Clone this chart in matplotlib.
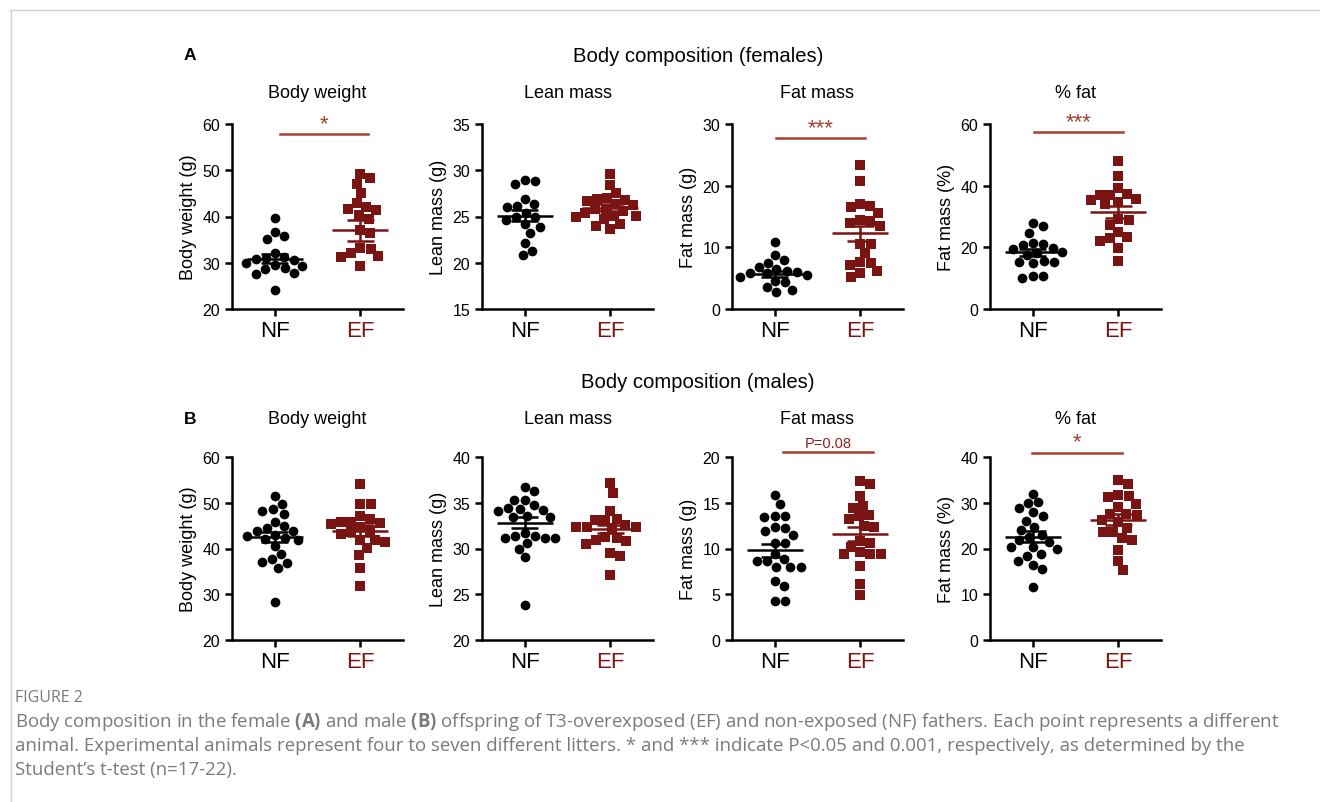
import matplotlib
matplotlib.use("Agg")
import matplotlib.pyplot as plt
import numpy as np

plt.rcParams['font.family'] = ['Liberation Sans', 'DejaVu Sans']
plt.rcParams['mathtext.fontset'] = 'custom'
plt.rcParams['mathtext.rm'] = 'Open Sans'
plt.rcParams['mathtext.bf'] = 'Open Sans:bold'

NF_COLOR = '#000000'
EF_COLOR = '#7a1412'
SIG_COLOR = '#a8402e'

# ---- data --------------------------------------------------------------------
# row A: females
fw_nf = [39.6, 36.6, 35.8, 35.1, 32.2, 31.2, 31.0, 30.8, 30.5, 30.0, 29.5,
         29.2, 28.8, 28.6, 27.8, 27.5, 24.2]
fw_ef = [49.1, 48.3, 47.0, 45.0, 43.0, 42.0, 41.7, 41.4, 40.3, 39.4, 37.1,
         36.5, 33.2, 33.0, 32.1, 31.4, 31.3, 29.3]
fl_nf = [29.0, 28.8, 28.5, 26.9, 26.4, 26.1, 26.0, 25.4, 24.9, 24.9, 24.6,
         24.2, 23.9, 23.2, 22.1, 21.3, 20.8]
fl_ef = [29.6, 28.4, 27.5, 27.0, 26.9, 26.8, 26.7, 26.3, 26.2, 25.8, 25.8,
         25.6, 25.4, 25.1, 25.1, 24.9, 24.7, 24.2, 24.0, 23.6]
ff_nf = [10.9, 8.8, 8.0, 7.5, 6.8, 6.5, 6.2, 6.0, 5.9, 5.8, 5.5, 5.2, 4.6,
         4.3, 3.5, 3.1, 2.7]
ff_ef = [23.3, 20.8, 17.1, 16.7, 16.5, 15.5, 14.5, 14.2, 14.0, 13.5, 10.6,
         10.6, 9.1, 7.6, 7.4, 7.2, 6.1, 5.8, 5.2]
fp_nf = [27.8, 26.9, 24.7, 21.3, 21.2, 20.7, 19.9, 19.6, 18.6, 18.2, 17.6,
         15.7, 15.3, 15.3, 15.0, 10.6, 10.6, 10.1]
fp_ef = [48.1, 43.2, 39.1, 37.2, 37.0, 37.0, 35.8, 35.4, 34.8, 34.0, 29.3,
         28.9, 27.2, 25.1, 23.3, 22.9, 22.2, 19.9, 15.7]

# row B: males
mw_nf = [51.5, 49.8, 48.7, 48.3, 47.6, 45.9, 45.0, 44.5, 43.9, 43.9, 43.0,
         42.8, 42.3, 42.0, 41.9, 40.6, 38.8, 37.7, 37.1, 36.9, 35.8, 28.2]
mw_ef = [54.2, 49.8, 49.8, 47.0, 46.4, 45.9, 45.9, 45.5, 45.4, 44.7, 43.9,
         43.5, 43.1, 41.9, 41.9, 41.5, 40.1, 38.6, 35.7, 31.9]
ml_nf = [36.7, 36.3, 35.3, 35.3, 34.7, 34.4, 34.3, 34.2, 34.1, 33.5, 33.4,
         33.4, 31.7, 31.4, 31.4, 31.1, 31.1, 31.1, 30.6, 30.0, 29.1, 23.8]
ml_ef = [37.2, 36.1, 34.1, 33.2, 33.1, 33.1, 32.6, 32.4, 32.4, 32.3, 32.2,
         31.3, 31.2, 30.9, 30.8, 30.5, 29.5, 29.2, 27.1]
mf_nf = [15.9, 14.9, 13.5, 13.5, 13.4, 12.3, 12.2, 11.9, 11.5, 10.6, 10.6,
         9.4, 8.9, 8.6, 8.6, 8.0, 8.0, 8.0, 6.4, 5.9, 4.3, 4.3]
mf_ef = [17.4, 17.0, 15.7, 14.6, 14.4, 13.7, 13.5, 13.2, 12.5, 12.3, 10.8,
         10.6, 10.2, 9.6, 9.4, 9.4, 9.4, 8.1, 6.1, 4.9]
mp_nf = [32.0, 30.1, 30.0, 28.9, 27.9, 27.2, 26.1, 24.6, 24.1, 23.0, 22.6,
         21.9, 21.4, 20.3, 20.3, 20.0, 18.8, 18.4, 17.3, 16.4, 15.5, 11.5]
mp_ef = [34.9, 34.0, 31.7, 31.4, 31.2, 29.8, 29.0, 27.6, 27.6, 27.4, 26.3,
         25.7, 24.4, 23.7, 23.5, 22.4, 21.9, 19.7, 17.3, 15.3]

# mean and SEM as drawn (NF, EF)
means = [[30.85, 37.0], [25.1, 25.95], [5.7, 12.3], [18.4, 31.5],
         [42.5, 43.9], [32.8, 32.1], [9.8, 11.6], [22.6, 26.25]]
sems = [[0.95, 2.3], [0.6, 0.36], [0.5, 1.2], [1.2, 2.0],
        [1.15, 1.15], [0.6, 0.45], [0.68, 0.73], [1.15, 1.2]]

titles = ["Body weight", "Lean mass", "Fat mass", "% fat"]
ylabels = ["Body weight (g)", "Lean mass (g)", "Fat mass (g)", "Fat mass (%)"]
ylims_f = [(20, 60), (15, 35), (0, 30), (0, 60)]
yticks_f = [[20, 30, 40, 50, 60], [15, 20, 25, 30, 35], [0, 10, 20, 30], [0, 20, 40, 60]]
ylims_m = [(20, 60), (20, 40), (0, 20), (0, 40)]
yticks_m = [[20, 30, 40, 50, 60], [20, 25, 30, 35, 40], [0, 5, 10, 15, 20], [0, 10, 20, 30, 40]]

# significance bars: (label, x0, x1, y)
sig_f = [("*", 0.06, 1.09, 57.8), None, ("***", 0.02, 1.05, 27.7), ("***", 0.02, 1.06, 57.5)]
sig_m = [None, None, ("P=0.08", 0.1, 1.15, 20.5), ("*", -0.01, 1.04, 40.95)]

female = [(fw_nf, fw_ef), (fl_nf, fl_ef), (ff_nf, ff_ef), (fp_nf, fp_ef)]
male = [(mw_nf, mw_ef), (ml_nf, ml_ef), (mf_nf, mf_ef), (mp_nf, mp_ef)]


def swarm(ax, xc, vals, d_px):
    """Simple beeswarm: offsets in data units so markers don't overlap."""
    tr = ax.transData
    pts = np.column_stack([np.full(len(vals), xc), vals])
    disp = tr.transform(pts)
    ys = disp[:, 1]
    order = np.argsort(-ys)
    placed = []
    xs_out = np.zeros(len(vals))
    x0 = disp[0, 0]
    for i in order:
        y = ys[i]
        cands = [0.0]
        for (px, py) in placed:
            dy = abs(py - y)
            if dy < d_px:
                dx = np.sqrt(d_px ** 2 - dy ** 2)
                cands += [px + dx, px - dx]
        cands.sort(key=abs)
        for c in cands:
            ok = all((c - px) ** 2 + (y - py) ** 2 >= d_px ** 2 - 1e-6 for (px, py) in placed)
            if ok:
                placed.append((c, y))
                xs_out[i] = c
                break
    back = tr.inverted().transform(np.column_stack([x0 + xs_out, ys]))
    return back[:, 0]


W, H = 1320, 803
fig = plt.figure(figsize=(W / 100, H / 100), dpi=100)

lefts = [232, 482, 732, 990]
ax_w = 171
rows = [(125, 310), (458, 641)]
title_y = [94, 420]


def draw_row(row_idx, groups, ylims, yticks, sigs, panel_idx0):
    top, bot = rows[row_idx]
    for j in range(4):
        ax = fig.add_axes([lefts[j] / W, 1 - bot / H, ax_w / W, (bot - top) / H])
        ax.set_xlim(-0.5, 1.5)
        ax.set_ylim(*ylims[j])
        ax.set_yticks(yticks[j])
        ax.set_xticks([0, 1])
        ax.set_xticklabels(["NF", "EF"])
        ax.get_xticklabels()[1].set_color(EF_COLOR)
        ax.tick_params(axis='both', direction='out', width=1.8, length=5, labelsize=11.5)
        ax.tick_params(axis='x', labelsize=16, pad=3)
        for s in ['top', 'right']:
            ax.spines[s].set_visible(False)
        for s in ['left', 'bottom']:
            ax.spines[s].set_linewidth(1.8)
        ax.set_ylabel(ylabels[j], fontsize=13, labelpad=4)
        fig.text((lefts[j] + ax_w / 2) / W, 1 - title_y[row_idx] / H, titles[j],
                 fontsize=13, ha='center', va='center')

        nf, ef = groups[j]
        xnf = swarm(ax, 0, nf, 10.4)
        xef = swarm(ax, 1, ef, 10.4)
        ax.plot(xnf, nf, 'o', color=NF_COLOR, ms=7.0, mew=0, clip_on=False, zorder=3)
        ax.plot(xef, ef, 's', color=EF_COLOR, ms=6.6, mew=0, clip_on=False, zorder=3)

        m = means[panel_idx0 + j]
        se = sems[panel_idx0 + j]
        for k, col in enumerate([NF_COLOR, EF_COLOR]):
            ax.hlines(m[k], k - 0.33, k + 0.33, color=col, lw=1.8, zorder=4)
            ax.vlines(k, m[k] - se[k], m[k] + se[k], color=col, lw=1.8, zorder=4)
            ax.hlines([m[k] - se[k], m[k] + se[k]], k - 0.16, k + 0.16, color=col, lw=1.8, zorder=4)

        sg = sigs[j]
        if sg is not None:
            lab, x0, x1, yy = sg
            ax.plot([x0, x1], [yy, yy], color=SIG_COLOR, lw=1.8, clip_on=False)
            span = ylims[j][1] - ylims[j][0]
            if lab.startswith("P"):
                ax.text((x0 + x1) / 2, yy + span * 0.015, lab, color='#8b2020',
                        fontsize=10.5, ha='center', va='bottom', clip_on=False)
            else:
                ax.text((x0 + x1) / 2, yy, lab, color=SIG_COLOR,
                        fontsize=16, ha='center', va='bottom', clip_on=False)


draw_row(0, female, ylims_f, yticks_f, sig_f, 0)
draw_row(1, male, ylims_m, yticks_m, sig_m, 4)

fig.text(698 / W, 1 - 57 / H, "Body composition (females)", fontsize=14.6,
         ha='center', va='center')
fig.text(698 / W, 1 - 383 / H, "Body composition (males)", fontsize=14.6,
         ha='center', va='center')
fig.text(190 / W, 1 - 55 / H, "A", fontsize=12.5, fontweight='bold', ha='center', va='center')
fig.text(190 / W, 1 - 420 / H, "B", fontsize=12.5, fontweight='bold', ha='center', va='center')

# frame lines (top and left)
fig.add_artist(plt.Line2D([10 / W, 1], [1 - 11 / H, 1 - 11 / H], color='#d0d0d0', lw=1))
fig.add_artist(plt.Line2D([11 / W, 11 / W], [0, 1 - 11 / H], color='#d0d0d0', lw=1))

# caption
cap_font = ['Open Sans', 'DejaVu Sans']
gray = '#7a7a7a'
fig.text(15 / W, 1 - 698 / H, "FIGURE 2", fontsize=11.5, color=gray, family=cap_font,
         va='center', ha='left')
lines = [
    r"Body composition in the female $\bf{(A)}$ and male $\bf{(B)}$ offspring of T3-overexposed (EF) and non-exposed (NF) fathers. Each point represents a different",
    "animal. Experimental animals represent four to seven different litters. * and *** indicate P<0.05 and 0.001, respectively, as determined by the",
    "Student\u2019s t-test (n=17-22).",
]
for i, ln in enumerate(lines):
    fig.text(15 / W, 1 - (722 + 24 * i) / H, ln, fontsize=13.4, color=gray, family=cap_font,
             va='center', ha='left')

fig.savefig("out.png", dpi=100)
